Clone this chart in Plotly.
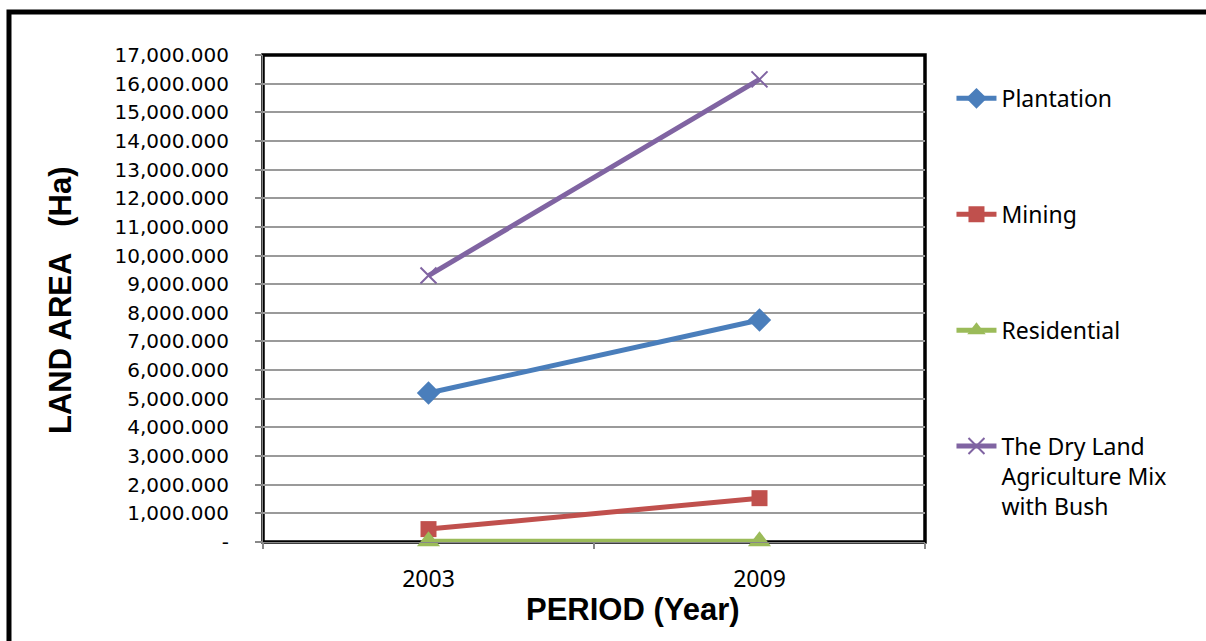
import plotly.graph_objects as go

# Land-use area by period
periods = ["2003", "2009"]
plantation = [5200, 7750]
mining = [450, 1530]
residential = [30, 30]
dry_land = [9300, 16150]

series = [
    ("Plantation", plantation, "#4A7EBB", "diamond", 18, 0),
    ("Mining", mining, "#C0504D", "square", 16, 0),
    ("Residential", residential, "#9BBB59", "triangle-up", 20, 0),
    ("The Dry Land<br>Agriculture Mix<br>with Bush", dry_land, "#8064A2", "x-thin", 16, 2),
]

y_ticks = list(range(0, 17001, 1000))
y_text = ["-" if v == 0 else f"{v:,.3f}" for v in y_ticks]

x_pos = list(range(len(periods)))

fig = go.Figure()
for i, (name, vals, color, sym, size, mlw) in enumerate(series):
    marker = dict(symbol=sym, size=size, color=color)
    if mlw:
        marker["line"] = dict(color=color, width=mlw)
    fig.add_trace(go.Scatter(
        x=x_pos, y=vals, name=name, mode="lines+markers",
        line=dict(color=color, width=5),
        marker=marker, cliponaxis=False,
        legendgroup=f"g{i}",
    ))

title_font = dict(family="Liberation Sans", size=31, color="black", weight="bold")

fig.update_layout(
    width=1206, height=641,
    margin=dict(l=263, r=281, t=55, b=99),
    plot_bgcolor="white", paper_bgcolor="white",
    font=dict(family="Noto Sans", size=23, color="black"),
    showlegend=True,
    legend=dict(
        x=1.04, xanchor="left", y=0.955, yanchor="top",
        traceorder="grouped", tracegroupgap=83, valign="top",
        font=dict(size=23), itemwidth=40,
        bgcolor="rgba(0,0,0,0)",
    ),
    xaxis=dict(
        range=[-0.5, 1.5], tickvals=x_pos, ticktext=periods,
        ticks="", showgrid=False, zeroline=False,
        showline=True, linecolor="#888888", linewidth=1,
        ticklabelstandoff=16,
        minor=dict(tickvals=[-0.5, 0.5, 1.5], ticks="outside", ticklen=6,
                   tickcolor="#888888", tickwidth=1.5, showgrid=False),
    ),
    yaxis=dict(
        range=[0, 17000], tickvals=y_ticks, ticktext=y_text,
        tickfont=dict(family="DejaVu Sans", size=20),
        ticks="outside", ticklen=7, tickcolor="#888888", tickwidth=1.5,
        showgrid=True, gridcolor="#9A9A9A", gridwidth=1.5,
        zeroline=False, showline=True, linecolor="#888888", linewidth=1,
        ticklabelstandoff=22,
    ),
    annotations=[
        dict(text="PERIOD (Year)", xref="paper", yref="paper",
             x=0.559, y=-0.1396, xanchor="center", yanchor="middle",
             showarrow=False, font=title_font),
        dict(text="LAND AREA\u00a0\u00a0\u00a0(Ha)", xref="paper", yref="paper",
             x=-0.305, y=0.497, xanchor="center", yanchor="middle",
             textangle=-90, showarrow=False, font=title_font),
    ],
    shapes=[
        # plot-area border
        dict(type="rect", xref="paper", yref="paper", x0=0, x1=1, y0=0, y1=1,
             line=dict(color="black", width=3.5), layer="between"),
        # outer chart frame
        dict(type="rect", xref="paper", yref="paper",
             x0=-0.3837, x1=1.46, y0=-0.25, y1=1.0883,
             line=dict(color="black", width=5), layer="above"),
    ],
)

fig.write_html("out.html")
